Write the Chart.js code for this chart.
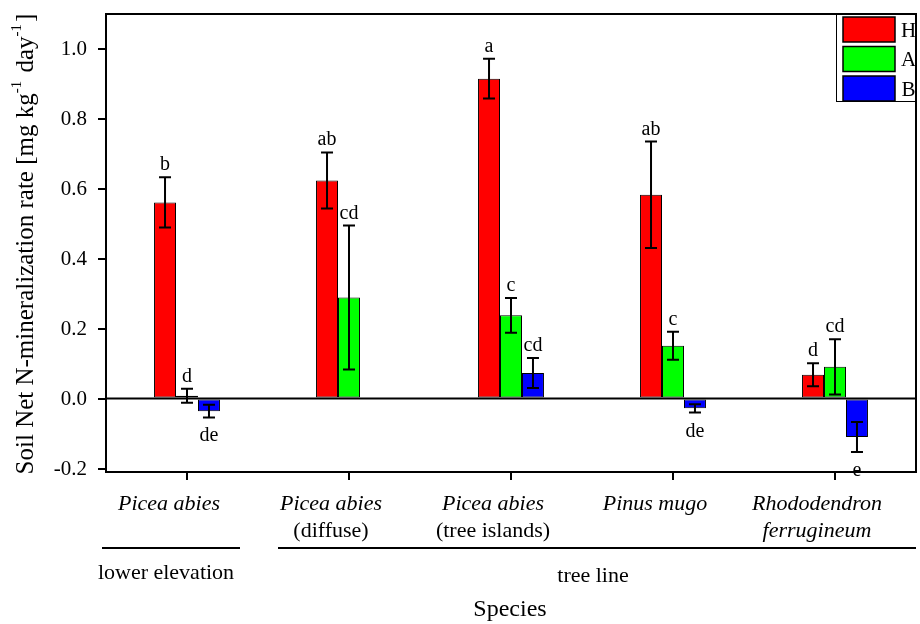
<!DOCTYPE html>
<html>
<head>
<meta charset="utf-8">
<script src="https://cdn.jsdelivr.net/npm/chart.js@4.4.1/dist/chart.umd.min.js"></script>
<style>
  html, body { margin: 0; padding: 0; background: #fff; }
  #wrap { width: 920px; height: 624px; }
</style>
</head>
<body>
<div id="wrap"><canvas id="nminChart" width="920" height="624"></canvas></div>
<script>
const FONT = "'Liberation Serif', 'Times New Roman', serif";

// categories: italic first line, second line (italic only for the last one)
const species = ["Picea abies", "Picea abies", "Picea abies", "Pinus mugo", "Rhododendron"];
const speciesSub = ["", "(diffuse)", "(tree islands)", "", "ferrugineum"];
const subItalic = [false, false, false, false, true];

const horizons = ["H", "A", "B"];
const colors = ["#ff0000", "#00ff00", "#0000ff"];

const valuesH = [0.561, 0.624, 0.915, 0.583, 0.068];
const valuesA = [0.008, 0.289, 0.238, 0.151, 0.091];
const valuesB = [-0.036, null, 0.073, -0.028, -0.110];

const errH = [0.072, 0.080, 0.057, 0.152, 0.033];
const errA = [0.020, 0.206, 0.050, 0.040, 0.079];
const errB = [0.018, null, 0.043, 0.012, 0.043];

const lettersH = ["b", "ab", "a", "ab", "d"];
const lettersA = ["d", "cd", "c", "c", "cd"];
const lettersB = ["de", "", "cd", "de", "e"];

const yTicks = [-0.2, 0.0, 0.2, 0.4, 0.6, 0.8, 1.0];

const errors = [errH, errA, errB];
const letters = [lettersH, lettersA, lettersB];

const errorBars = {
    id: "errorBars",
    afterDatasetsDraw(chart) {
        const ctx = chart.ctx;
        const y = chart.scales.y;
        const area = chart.chartArea;

        // zero line
        ctx.save();
        ctx.strokeStyle = "#000";
        ctx.lineWidth = 2;
        ctx.beginPath();
        ctx.moveTo(area.left, y.getPixelForValue(0));
        ctx.lineTo(area.right, y.getPixelForValue(0));
        ctx.stroke();

        chart.data.datasets.forEach((ds, di) => {
            const meta = chart.getDatasetMeta(di);
            meta.data.forEach((bar, i) => {
                const v = ds.data[i];
                const e = errors[di][i];
                if (v === null || e === null) return;
                const top = y.getPixelForValue(v + e);
                const bot = y.getPixelForValue(v - e);
                ctx.lineWidth = 2;
                ctx.beginPath();
                ctx.moveTo(bar.x, top);
                ctx.lineTo(bar.x, bot);
                ctx.moveTo(bar.x - 6, top);
                ctx.lineTo(bar.x + 6, top);
                ctx.moveTo(bar.x - 6, bot);
                ctx.lineTo(bar.x + 6, bot);
                ctx.stroke();

                const txt = letters[di][i];
                if (!txt) return;
                ctx.fillStyle = "#000";
                ctx.font = "20px " + FONT;
                ctx.textAlign = "center";
                ctx.textBaseline = "alphabetic";
                if (v >= 0) {
                    ctx.fillText(txt, bar.x, top - 7);
                } else {
                    ctx.fillText(txt, bar.x, bot + 24);
                }
            });
        });
        ctx.restore();
    },
    afterDraw(chart) {
        const ctx = chart.ctx;
        const area = chart.chartArea;
        const x = chart.scales.x;
        const y = chart.scales.y;
        ctx.save();
        ctx.strokeStyle = "#000";
        ctx.fillStyle = "#000";

        // top and right frame
        ctx.lineWidth = 2;
        ctx.beginPath();
        ctx.moveTo(area.left, area.top);
        ctx.lineTo(area.right, area.top);
        ctx.lineTo(area.right, area.bottom);
        ctx.stroke();

        // y tick labels
        ctx.font = "21px " + FONT;
        ctx.textAlign = "right";
        ctx.textBaseline = "middle";
        yTicks.forEach(v => {
            ctx.fillText(v.toFixed(1), area.left - 19, y.getPixelForValue(v) + 1);
        });

        // legend
        ctx.lineWidth = 1;
        ctx.strokeRect(836.5, 14.5, 80, 87);
        horizons.forEach((h, i) => {
            const top = 17 + i * 29.5;
            ctx.fillStyle = colors[i];
            ctx.fillRect(843, top, 52, 25);
            ctx.strokeStyle = "#000";
            ctx.lineWidth = 1.5;
            ctx.strokeRect(843, top, 52, 25);
            ctx.fillStyle = "#000";
            ctx.font = "21px " + FONT;
            ctx.textAlign = "center";
            ctx.textBaseline = "middle";
            ctx.fillText(h, 908.5, top + 14);
        });

        // category labels (sit a little left of the tick)
        ctx.textAlign = "center";
        ctx.textBaseline = "middle";
        species.forEach((s, i) => {
            const cx = x.getPixelForValue(i) - 18;
            ctx.font = "italic 22px " + FONT;
            ctx.fillText(s, cx, 504);
            if (speciesSub[i]) {
                ctx.font = (subItalic[i] ? "italic " : "") + "22px " + FONT;
                ctx.fillText(speciesSub[i], cx, 531);
            }
        });

        // group lines
        ctx.lineWidth = 2;
        ctx.beginPath();
        ctx.moveTo(102, 548);
        ctx.lineTo(240, 548);
        ctx.moveTo(278, 548);
        ctx.lineTo(916, 548);
        ctx.stroke();
        ctx.font = "22px " + FONT;
        ctx.fillText("lower elevation", 166, 573);
        ctx.fillText("tree line", 593, 576);
        ctx.font = "24px " + FONT;
        ctx.fillText("Species", 510, 610);

        // y title with superscripts
        ctx.translate(33, 246);
        ctx.rotate(-Math.PI / 2);
        ctx.textBaseline = "alphabetic";
        const parts = [
            ["Soil Net N-mineralization rate [mg kg", 25, 0],
            ["-1", 15, -12],
            [" day", 25, 0],
            ["-1", 15, -12],
            ["]", 25, 0]
        ];
        let total = 0;
        parts.forEach(p => { ctx.font = p[1] + "px " + FONT; total += ctx.measureText(p[0]).width; });
        let px = -total / 2;
        ctx.textAlign = "left";
        parts.forEach(p => {
            ctx.font = p[1] + "px " + FONT;
            ctx.fillText(p[0], px, p[2]);
            px += ctx.measureText(p[0]).width + (p[1] === 15 ? 2 : 0);
        });
        ctx.restore();
    }
};

new Chart(document.getElementById("nminChart"), {
    type: "bar",
    data: {
        labels: species,
        datasets: [valuesH, valuesA, valuesB].map((d, i) => ({
            label: horizons[i],
            data: d,
            backgroundColor: colors[i],
            borderColor: "#000",
            borderWidth: 1,
            borderSkipped: false,
            categoryPercentage: 0.407,
            barPercentage: 1
        }))
    },
    options: {
        responsive: false,
        animation: false,
        devicePixelRatio: 1,
        layout: { padding: { top: 14, right: 4, left: 0, bottom: 0 } },
        plugins: {
            legend: { display: false },
            tooltip: { enabled: false }
        },
        scales: {
            x: {
                grid: { display: true, drawOnChartArea: false, drawTicks: true, tickLength: 8, offset: false, color: "#000", lineWidth: 2 },
                border: { display: true, color: "#000", width: 2 },
                ticks: { display: false },
                afterFit: s => { s.height = 152; s.paddingLeft = 0; s.paddingRight = 0; }
            },
            y: {
                min: -0.21,
                max: 1.1,
                afterBuildTicks: s => { s.ticks = yTicks.map(v => ({ value: v })); },
                grid: { display: true, drawOnChartArea: false, drawTicks: true, tickLength: 8, color: "#000", lineWidth: 2 },
                border: { display: true, color: "#000", width: 2 },
                ticks: { display: false },
                afterFit: s => { s.width = 106; s.paddingTop = 0; s.paddingBottom = 0; }
            }
        }
    },
    plugins: [errorBars]
});
</script>
</body>
</html>
